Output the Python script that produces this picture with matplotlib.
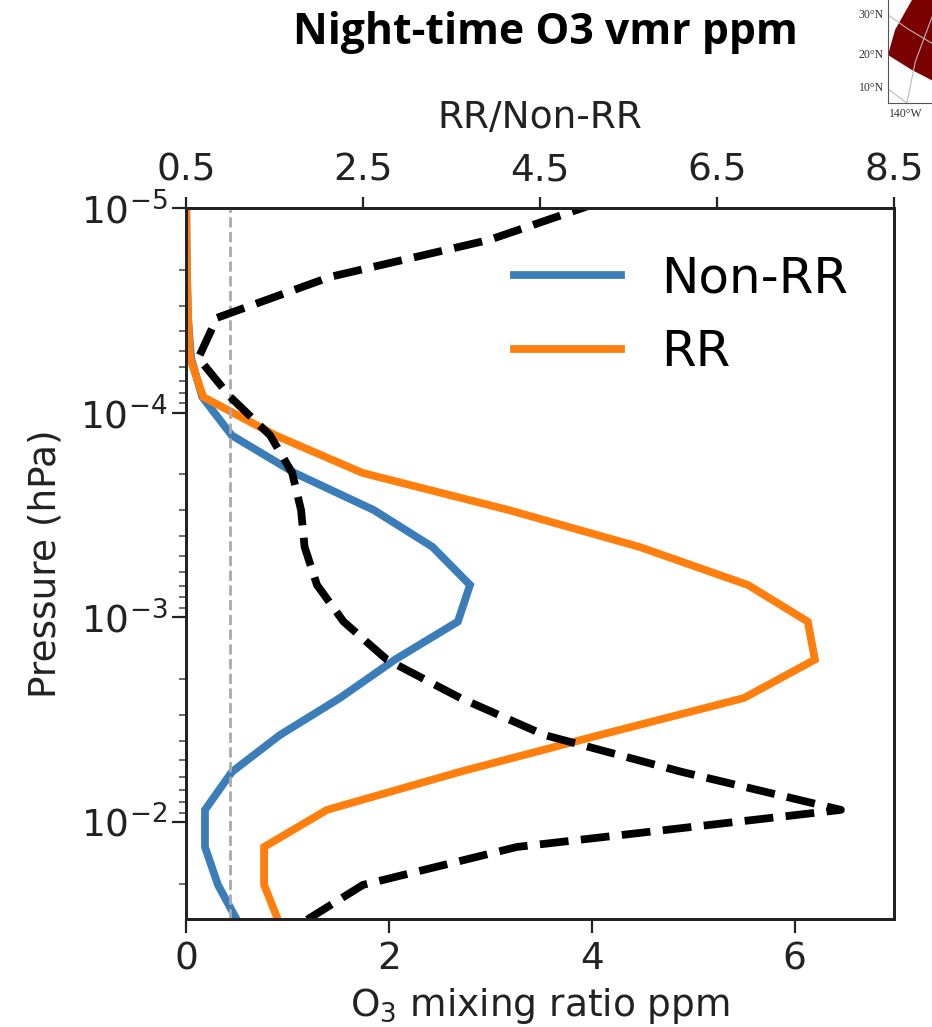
import matplotlib
matplotlib.use('Agg')
import matplotlib.pyplot as plt
from matplotlib.ticker import LogLocator, NullFormatter

# pressure levels (hPa), bottom of the plot first
pressure = [0.0300, 0.0203, 0.01325, 0.00873, 0.00569, 0.00376, 0.00248, 0.00161, 0.00105, 0.000695,
            0.000453, 0.000299, 0.000197, 0.000129, 0.0000838, 0.0000541, 0.0000344, 0.0000217,
            0.0000143, 0.0000095]
non_rr = [0.50, 0.315, 0.187, 0.187, 0.453, 0.926, 1.517, 2.06, 2.68, 2.80,
          2.43, 1.85, 1.07, 0.45, 0.16, 0.05, 0.02, 0.01, 0.005, 0.002]
rr = [0.906, 0.77, 0.77, 1.39, 2.70, 4.08, 5.50, 6.20, 6.13, 5.54,
      4.47, 3.18, 1.74, 0.88, 0.17, 0.04, 0.02, 0.01, 0.005, 0.002]
ratio = [1.87, 2.5, 4.24, 7.9, 6.1, 4.55, 3.6, 2.77, 2.28, 1.98,
         1.84, 1.8, 1.7, 1.45, 1.0, 0.64, 0.85, 2.13, 3.93, 5.13]

x_ticks = [0, 2, 4, 6]
top_ticks = [0.5, 2.5, 4.5, 6.5, 8.5]

# bit of the neighbouring map panel, cut off at the corner
map_lon = [0.0, 0.16, 0.545, 1.0, 1.0, 0.545, 0.0]
map_lat = [0.466, 0.71, 1.0, 1.0, 0.22, 0.32, 0.466]
grid_a_lon = [0.0, 0.45, 1.0]
grid_a_lat = [0.855, 0.72, 0.58]
grid_b_lon = [1.0, 0.62, 0.43]
grid_b_lat = [0.835, 0.4, 0.0]
grid_c_lon = [0.0, 0.43]
grid_c_lat = [0.135, 0.0]
map_labels = ['30°N', '20°N', '10°N']
map_label_y = [15, 55, 88]

W, H = 932, 1027
fig = plt.figure(figsize=(W / 100, H / 100), dpi=100)
ax = fig.add_axes([186 / W, 1 - 919 / H, (894 - 186) / W, (919 - 208) / H])

ax.plot(non_rr, pressure, color='#3a7db8', lw=5.6, label='Non-RR', solid_joinstyle='miter')
ax.plot(rr, pressure, color='#ff7f0e', lw=5.6, label='RR', solid_joinstyle='miter')
ax.set_yscale('log')
ax.set_ylim(0.0298, 1e-5)
ax.set_xlim(0, 6.98)
ax.set_xticks(x_ticks)
ax.yaxis.set_major_locator(LogLocator(base=10, numticks=10))
ax.yaxis.set_minor_locator(LogLocator(base=10, subs=range(2, 10), numticks=10))
ax.yaxis.set_minor_formatter(NullFormatter())
ax.tick_params(axis='both', which='major', labelsize=27, width=1.6, length=10, color='#222222', labelcolor='#222222')
ax.tick_params(axis='x', pad=6)
ax.tick_params(axis='y', which='minor', width=1.1, length=5, color='#444444')
ax.set_xlabel('O$_3$ mixing ratio ppm', fontsize=27, color='#222222', labelpad=6)
ax.set_ylabel('Pressure (hPa)', fontsize=27, color='#222222', labelpad=12)
ax.legend(loc='upper right', bbox_to_anchor=(0.999, 0.998), frameon=False, fontsize=36,
          handlelength=2.15, labelspacing=0.52, handletextpad=0.8)

top = ax.twiny()
top.plot(ratio, pressure, color='black', lw=5.6, ls='--')
top.axvline(1, color='#aaaaaa', lw=2, ls='--', zorder=1)
top.set_xlim(0.5, 8.5)
top.set_xticks(top_ticks)
top.tick_params(axis='x', labelsize=27, width=1.6, length=8, pad=6, color='#222222', labelcolor='#222222')
top.set_xlabel('RR/Non-RR', fontsize=27, color='#222222', labelpad=18)

for a in (ax, top):
    for s in a.spines.values():
        s.set_linewidth(2)
        s.set_color('#222222')

fig.text(545 / W, 1 - 32 / H, 'Night-time O3 vmr ppm', fontsize=30.8, fontweight='bold',
         family='Open Sans', ha='center', va='center', color='black')

inset = fig.add_axes([888 / W, 1 - 103 / H, (W - 888) / W, 103 / H])
inset.fill(map_lon, map_lat, color='#7b0000', lw=0)
inset.plot(grid_a_lon, grid_a_lat, color='#bbbbbb', lw=0.8)
inset.plot(grid_b_lon, grid_b_lat, color='#bbbbbb', lw=0.8)
inset.plot(grid_c_lon, grid_c_lat, color='#bbbbbb', lw=0.8)
inset.set_xlim(0, 1)
inset.set_ylim(0, 1)
inset.set_xticks([])
inset.set_yticks([])
inset.spines['top'].set_visible(False)
inset.spines['right'].set_visible(False)
for s in ('left', 'bottom'):
    inset.spines[s].set_linewidth(0.8)
    inset.spines[s].set_color('#555555')
for lab, y in zip(map_labels, map_label_y):
    fig.text(884 / W, 1 - y / H, lab, fontsize=8.5, family='Liberation Serif', ha='right', va='center', color='#333333')
fig.text(906 / W, 1 - 114 / H, '140°W', fontsize=8.5, family='Liberation Serif', ha='center', va='center', color='#333333')

fig.savefig('out.png', dpi=100)
